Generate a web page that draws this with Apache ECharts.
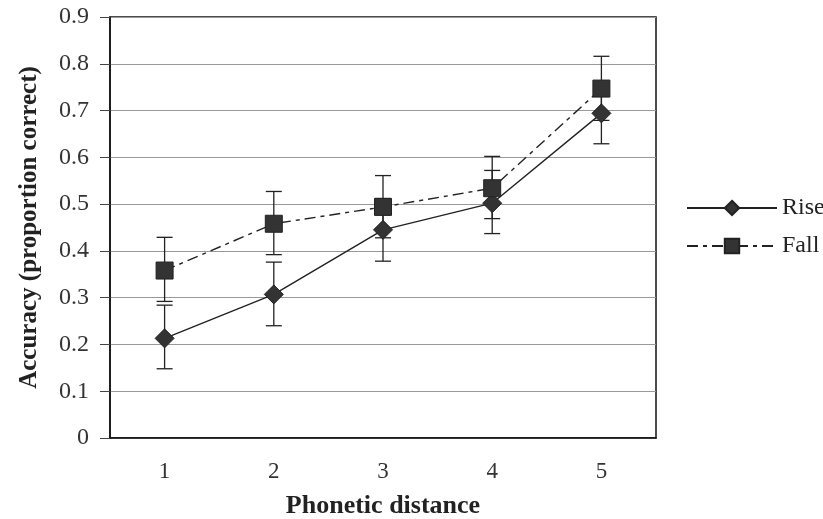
<!DOCTYPE html>
<html>
<head>
<meta charset="utf-8">
<script src="https://cdn.jsdelivr.net/npm/echarts@6/dist/echarts.min.js"></script>
<style>
  html, body { margin: 0; padding: 0; background: #fff; }
  #chart { width: 823px; height: 519px; }
</style>
</head>
<body>
<div id="chart"></div>
<script>
// data
const distances = ['1', '2', '3', '4', '5']
const riseMean = [0.213, 0.307, 0.445, 0.502, 0.694]
const riseLow = [0.148, 0.240, 0.378, 0.437, 0.629]
const riseHigh = [0.284, 0.376, 0.512, 0.572, 0.759]
const fallMean = [0.358, 0.458, 0.494, 0.534, 0.747]
const fallLow = [0.292, 0.392, 0.428, 0.469, 0.679]
const fallHigh = [0.429, 0.527, 0.561, 0.602, 0.816]
const yTicks = [0, 0.1, 0.2, 0.3, 0.4, 0.5, 0.6, 0.7, 0.8, 0.9]

const serif = '"Liberation Serif", "DejaVu Serif", serif'
const chart = echarts.init(document.getElementById('chart'))

// error bars drawn through the axes
const errorBars = (low, high) => ({
  type: 'custom',
  silent: true,
  z: 1,
  data: distances.map((d, i) => [i, low[i], high[i]]),
  renderItem: (params, api) => {
    const lo = api.coord([api.value(0), api.value(1)])
    const hi = api.coord([api.value(0), api.value(2)])
    const w = 8
    const style = { stroke: '#222', lineWidth: 1.3 }
    return {
      type: 'group',
      children: [
        { type: 'line', shape: { x1: lo[0], y1: lo[1], x2: hi[0], y2: hi[1] }, style },
        { type: 'line', shape: { x1: lo[0] - w, y1: lo[1], x2: lo[0] + w, y2: lo[1] }, style },
        { type: 'line', shape: { x1: hi[0] - w, y1: hi[1], x2: hi[0] + w, y2: hi[1] }, style }
      ]
    }
  }
})

const option = {
  backgroundColor: '#fff',
  animation: false,
  grid: {
    left: 110,
    right: 167,
    top: 17,
    bottom: 81,
    outerBoundsMode: 'none',
    show: true,
    borderColor: '#111',
    borderWidth: 1.5
  },
  legend: {
    orient: 'vertical',
    left: 681,
    top: 191,
    itemWidth: 90,
    itemHeight: 18,
    itemGap: 14,
    textStyle: { fontFamily: serif, fontSize: 24, color: '#222' },
    data: ['Rise', 'Fall']
  },
  xAxis: {
    type: 'category',
    data: distances,
    boundaryGap: true,
    axisLine: { lineStyle: { color: '#111', width: 1.5 } },
    axisTick: { show: false },
    axisLabel: { fontFamily: serif, fontSize: 23, color: '#333', margin: 22 },
    name: 'Phonetic distance',
    nameLocation: 'middle',
    nameGap: 55,
    nameTextStyle: { fontFamily: serif, fontSize: 26, fontWeight: 'bold', color: '#222' }
  },
  yAxis: {
    type: 'value',
    min: 0,
    max: 0.9,
    interval: 0.1,
    axisLine: { show: true, lineStyle: { color: '#111', width: 1.5 } },
    axisTick: { show: true, length: 10, lineStyle: { color: '#444' } },
    splitLine: { lineStyle: { color: '#999', width: 1 } },
    axisLabel: {
      fontFamily: serif,
      fontSize: 24,
      color: '#333',
      margin: 21,
      formatter: v => {
        const t = yTicks.find(k => Math.abs(k - v) < 1e-9)
        return t === 0 ? '0' : String(t)
      }
    },
    name: 'Accuracy (proportion correct)',
    nameLocation: 'middle',
    nameGap: 68,
    nameTextStyle: { fontFamily: serif, fontSize: 25, fontWeight: 'bold', color: '#222' }
  },
  series: [
    errorBars(riseLow, riseHigh),
    errorBars(fallLow, fallHigh),
    {
      name: 'Rise',
      type: 'line',
      data: riseMean,
      symbol: 'diamond',
      symbolSize: 19,
      z: 3,
      itemStyle: { color: '#333', borderColor: '#222', borderWidth: 1 },
      lineStyle: { color: '#222', width: 1.4, type: 'solid' }
    },
    {
      name: 'Fall',
      type: 'line',
      data: fallMean,
      symbol: 'rect',
      symbolSize: 17,
      z: 3,
      itemStyle: { color: '#333', borderColor: '#222', borderWidth: 1 },
      lineStyle: { color: '#222', width: 1.4, type: [11, 5, 4, 5] }
    }
  ]
}

chart.setOption(option)
</script>
</body>
</html>
